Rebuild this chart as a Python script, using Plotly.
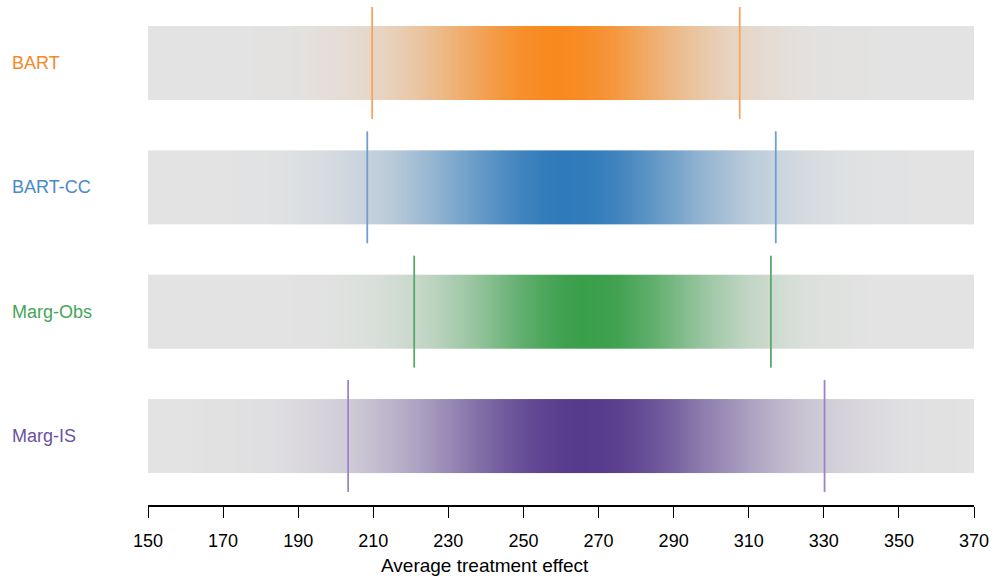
import plotly.graph_objects as go

# Posterior density shading (0 = none, 1 = peak) sampled every 5 units
grid = list(range(150, 371, 5))

methods = ["BART", "BART-CC", "Marg-Obs", "Marg-IS"]

density_bart = [0.00, 0.00, 0.00, 0.00, 0.00, 0.00, 0.01, 0.01, 0.02, 0.04,
                0.06, 0.10, 0.15, 0.21, 0.30, 0.40, 0.51, 0.63, 0.75, 0.86,
                0.94, 0.99, 1.00, 0.97, 0.91, 0.82, 0.70, 0.58, 0.46, 0.36,
                0.26, 0.18, 0.13, 0.08, 0.05, 0.03, 0.02, 0.01, 0.01, 0.00,
                0.00, 0.00, 0.00, 0.00, 0.00]
density_cc = [0.00, 0.00, 0.00, 0.00, 0.00, 0.01, 0.01, 0.02, 0.04, 0.06,
              0.09, 0.13, 0.18, 0.24, 0.33, 0.42, 0.52, 0.63, 0.73, 0.83,
              0.91, 0.97, 1.00, 0.99, 0.96, 0.90, 0.81, 0.71, 0.61, 0.50,
              0.40, 0.31, 0.23, 0.17, 0.12, 0.08, 0.05, 0.03, 0.02, 0.01,
              0.01, 0.00, 0.00, 0.00, 0.00]
density_obs = [0.00, 0.00, 0.00, 0.00, 0.00, 0.00, 0.00, 0.00, 0.01, 0.01,
               0.02, 0.04, 0.06, 0.10, 0.15, 0.22, 0.31, 0.41, 0.53, 0.66,
               0.78, 0.88, 0.96, 1.00, 0.99, 0.95, 0.86, 0.76, 0.63, 0.51,
               0.39, 0.29, 0.20, 0.14, 0.09, 0.05, 0.03, 0.02, 0.01, 0.00,
               0.00, 0.00, 0.00, 0.00, 0.00]
density_is = [0.00, 0.00, 0.00, 0.01, 0.01, 0.02, 0.03, 0.04, 0.06, 0.09,
              0.12, 0.16, 0.22, 0.28, 0.36, 0.44, 0.53, 0.63, 0.72, 0.81,
              0.88, 0.94, 0.98, 1.00, 0.99, 0.96, 0.91, 0.84, 0.76, 0.66,
              0.57, 0.48, 0.39, 0.31, 0.24, 0.18, 0.14, 0.10, 0.07, 0.05,
              0.03, 0.02, 0.01, 0.01, 0.00]
densities = [density_bart, density_cc, density_obs, density_is]

# 95% interval bounds
lower = [209.7, 208.4, 220.9, 203.3]
upper = [307.6, 317.2, 315.9, 330.2]

peak_colors = ["#f8891f", "#2f7aba", "#3a9f4b", "#563a8c"]
line_colors = ["#f5a560", "#6f9fd0", "#5aa86a", "#9a86c6"]
label_colors = ["#f5892a", "#4a8ac6", "#45a556", "#6a51a3"]
base_gray = "#e3e3e3"

x_ticks = list(range(150, 371, 20))
x_title = "Average treatment effect"

rows = [3, 2, 1, 0]
half_bar = 0.297
half_line = 0.45

FONT = "Liberation Sans, Arial, sans-serif"
PLOT_W = 996 - 148 - 16

fig = go.Figure()

for name, dens, lo, hi, pc, lc, row in zip(methods, densities, lower, upper,
                                             peak_colors, line_colors, rows):
    fig.add_trace(go.Heatmap(
        x=grid,
        y=[row - half_bar, row + half_bar],
        z=[dens],
        zmin=0, zmax=1,
        colorscale=[[0, base_gray], [1, pc]],
        zsmooth="best",
        showscale=False,
        hoverinfo="skip",
        name=name,
    ))
    fig.add_trace(go.Scatter(
        x=[lo, lo, None, hi, hi],
        y=[row - half_line, row + half_line, None, row - half_line, row + half_line],
        mode="lines",
        line=dict(color=lc, width=1.8),
        hoverinfo="skip",
        showlegend=False,
    ))

# method labels in the left margin
for name, lc, row in zip(methods, label_colors, rows):
    fig.add_annotation(
        x=-139 / PLOT_W, xref="paper", xanchor="left",
        y=row, yref="y", yanchor="middle",
        text=name, showarrow=False,
        font=dict(family=FONT, size=18, color=lc),
    )

# axis title
fig.add_annotation(
    x=(487 - 148) / PLOT_W, xref="paper", xanchor="center",
    y=-0.122, yref="paper", yanchor="middle",
    text=x_title, showarrow=False,
    font=dict(family=FONT, size=19, color="black"),
)

fig.update_layout(
    width=996, height=579,
    margin=dict(l=148, r=16, t=7, b=74),
    paper_bgcolor="white",
    plot_bgcolor="white",
    showlegend=False,
    font=dict(family=FONT, size=16, color="black"),
    xaxis=dict(
        range=[150, 370],
        tickvals=x_ticks,
        ticktext=[str(t) for t in x_ticks],
        ticks="outside", ticklen=11, tickwidth=1, tickcolor="black",
        ticklabelstandoff=8,
        showline=True, linecolor="black", linewidth=1.5,
        showgrid=False, zeroline=False,
        tickfont=dict(size=18),
    ),
    yaxis=dict(
        range=[-0.555, 3.45],
        showticklabels=False, showgrid=False, zeroline=False, showline=False,
    ),
)

fig.write_html("out.html")
